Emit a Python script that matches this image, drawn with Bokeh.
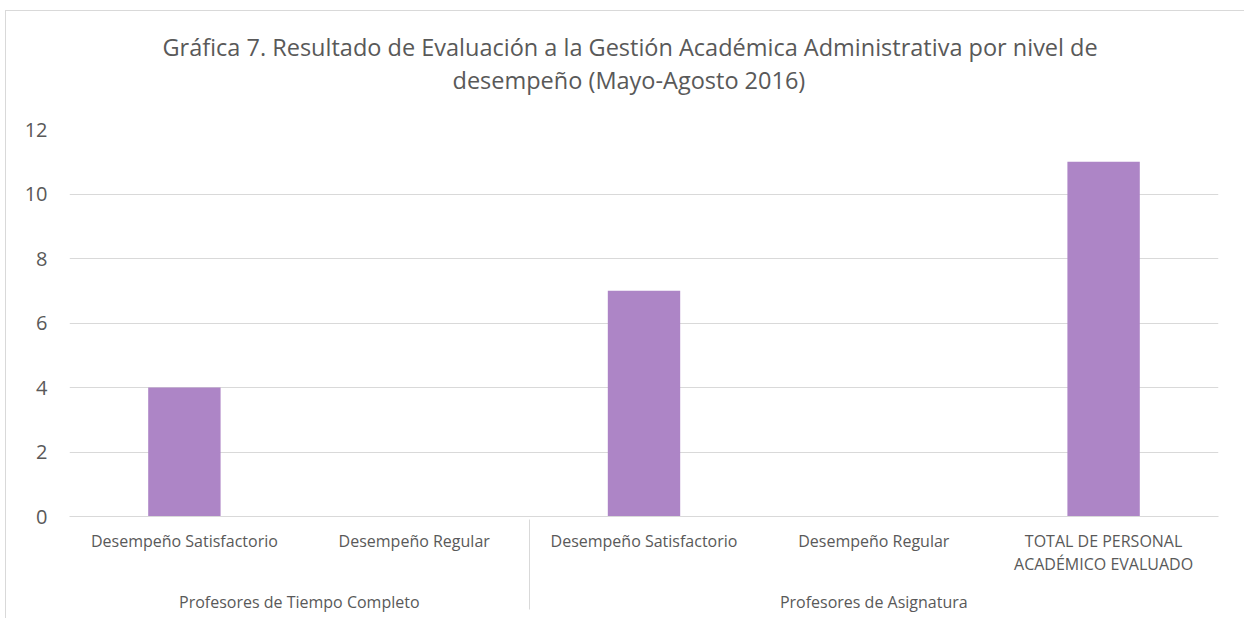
from bokeh.plotting import figure
from bokeh.models import FactorRange, Range1d, FixedTicker, Title, ColumnDataSource
from bokeh.embed import file_html
from bokeh.resources import INLINE

groups = ["Profesores de Tiempo Completo", "Profesores de Tiempo Completo",
          "Profesores de Asignatura", "Profesores de Asignatura", "Profesores de Asignatura"]
subcats = ["Desempeño Satisfactorio", "Desempeño Regular",
           "Desempeño Satisfactorio", "Desempeño Regular",
           "TOTAL DE PERSONAL\nACADÉMICO EVALUADO"]
values = [4, 0, 7, 0, 11]
y_ticks = [0, 2, 4, 6, 8, 10, 12]
title_lines = ["Gráfica 7. Resultado de Evaluación a la Gestión Académica Administrativa por nivel de",
               "desempeño (Mayo-Agosto 2016)"]

FONT = "Open Sans"
TXT = "#595959"
GRID = "#d9d9d9"

factors = list(zip(groups, subcats))
src = ColumnDataSource(data=dict(x=factors, top=values))

p = figure(width=1239, height=608, output_backend="svg", toolbar_location=None,
           x_range=FactorRange(factors=factors, factor_padding=0, group_padding=0, range_padding=0),
           y_range=Range1d(0, 12),
           min_border_left=63, min_border_right=27, min_border_top=118, min_border_bottom=103)

p.vbar(x="x", top="top", width=0.315, source=src, fill_color="#ad85c6", line_color=None)

# titles: added bottom line first (nearest to frame)
p.add_layout(Title(text=title_lines[1], align="left", offset=383, text_font=FONT,
                   text_font_size="23.5px", text_font_style="normal", text_color=TXT,
                   standoff=68), "above")
p.add_layout(Title(text=title_lines[0], align="left", offset=93, text_font=FONT,
                   text_font_size="23.5px", text_font_style="normal", text_color=TXT,
                   standoff=-70), "above")

p.outline_line_color = None
p.background_fill_color = "white"
p.border_fill_color = "white"

p.yaxis.ticker = FixedTicker(ticks=y_ticks)
p.yaxis.axis_line_color = None
p.yaxis.major_tick_line_color = None
p.yaxis.minor_tick_line_color = None
p.yaxis.major_tick_out = 0
p.yaxis.major_label_text_font = FONT
p.yaxis.major_label_text_font_size = "20px"
p.yaxis.major_label_text_color = TXT
p.yaxis.major_label_standoff = 22

p.ygrid.grid_line_color = GRID
p.xgrid.grid_line_color = None

xa = p.xaxis[0]
xa.axis_line_color = GRID
xa.major_tick_line_color = None
xa.minor_tick_line_color = None
xa.major_tick_out = 0
xa.major_label_text_font = FONT
xa.major_label_text_font_size = "16px"
xa.major_label_text_line_height = 1.05
xa.major_label_text_color = TXT
xa.major_label_standoff = 13
xa.group_text_font = FONT
xa.group_text_font_size = "16px"
xa.group_text_color = TXT
xa.group_text_font_style = "normal"
xa.separator_line_color = GRID
xa.separator_line_width = 1

p.styles = {"margin-left": "5px", "margin-top": "10px",
            "border-left": "1px solid #d9d9d9", "border-top": "1px solid #d9d9d9"}

open("out.html", "w").write(file_html(p, INLINE))
